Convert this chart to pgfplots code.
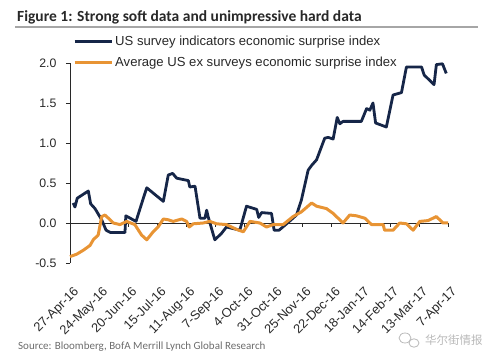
\documentclass[border=0pt]{standalone}
\usepackage{fontspec}
\setmainfont{Liberation Sans}
\newfontfamily\titlefont{Carlito}
\newfontfamily\cjk{Noto Sans CJK SC}
\usepackage{pgfplots}
\pgfplotsset{compat=1.18}
\definecolor{navy}{RGB}{22,38,72}
\definecolor{orng}{RGB}{232,148,52}
\definecolor{txt}{RGB}{40,40,40}
\begin{document}
\begin{tikzpicture}
\useasboundingbox (0,0) rectangle (500bp,361bp);
\node[anchor=base west, inner sep=0, font=\titlefont\bfseries\fontsize{15.5bp}{18bp}\selectfont, text=txt] at (17bp,339bp) {Figure 1: Strong soft data and unimpressive hard data};
\draw[gray!70, line width=1.2bp] (15bp,334bp) -- (478bp,334bp);
\node[anchor=base west, inner sep=0, font=\titlefont\fontsize{11bp}{13bp}\selectfont, text=gray!85!black] at (18bp,12bp) {Source: Bloomberg, BofA Merrill Lynch Global Research};
\node[anchor=west, inner sep=0, font=\cjk\fontsize{11.5bp}{13bp}\selectfont, text=gray!55] at (425bp,21bp) {华尔街情报};
\draw[gray!55, line width=0.8bp] (405bp,23bp) ellipse (6bp and 5bp);
\draw[gray!55, line width=0.8bp] (414bp,18bp) ellipse (5bp and 4.2bp);
\begin{axis}[
  at={(70bp,98bp)}, anchor=south west,
  scale only axis, width=378bp, height=200bp,
  xmin=0, xmax=13, ymin=-0.5, ymax=2,
  clip=false,
  axis y line=left, axis x line=middle,
  axis line style={-, draw=txt, line width=0.7bp},
  hide obscured x ticks=false,
  ytick={-0.5,0,0.5,1,1.5,2},
  xtick={0,...,13},
  xticklabels={27-Apr-16,24-May-16,20-Jun-16,15-Jul-16,11-Aug-16,7-Sep-16,4-Oct-16,31-Oct-16,25-Nov-16,22-Dec-16,18-Jan-17,14-Feb-17,13-Mar-17,7-Apr-17},
  ytick align=outside, xtick align=outside,
  major tick length=4bp,
  tick style={draw=txt, line width=0.7bp},
  /pgf/number format/assume math mode=true,
  yticklabel style={/pgf/number format/fixed, /pgf/number format/fixed zerofill, /pgf/number format/precision=1, xshift=-6bp, font=\fontsize{12.3bp}{14bp}\selectfont},
  ticklabel style={text=txt},
  xticklabel shift=57bp,
  xticklabel style={rotate=45, anchor=north east, xshift=4bp, font=\fontsize{12.8bp}{14bp}\selectfont},
  legend style={at={(rel axis cs:0.008,1.145)}, anchor=north west, draw=none, fill=none, inner sep=0pt, row sep=6bp, font=\fontsize{13.1bp}{15bp}\selectfont, text=txt},
  legend cell align=left,
  legend image code/.code={\draw[#1] (0bp,0bp) -- (37bp,0bp);},
]
\addplot[navy, line width=2.8bp, line join=round] coordinates {
(0.11,0.25)(0.17,0.20)(0.25,0.31)(0.63,0.40)(0.71,0.24)(0.86,0.18)(1.09,0.04)(1.24,-0.09)(1.40,-0.12)(1.89,-0.12)(1.92,0.09)(2.27,0.02)(2.54,0.33)(2.64,0.44)(3.21,0.27)(3.38,0.60)(3.53,0.62)(3.67,0.56)(4.07,0.53)(4.12,0.45)(4.30,0.46)(4.47,0.06)(4.64,0.06)(4.70,0.16)(4.75,0.08)(4.98,-0.21)(5.21,-0.13)(5.38,-0.05)(5.84,-0.09)(6.07,0.21)(6.42,0.17)(6.49,0.07)(6.59,0.13)(6.93,0.12)(7.02,-0.09)(7.19,-0.09)(7.45,-0.01)(7.79,0.10)(7.96,0.29)(8.19,0.66)(8.31,0.72)(8.48,0.79)(8.76,1.06)(8.88,1.07)(9.05,1.05)(9.19,1.32)(9.28,1.24)(9.39,1.27)(10.02,1.27)(10.20,1.43)(10.31,1.41)(10.42,1.50)(10.51,1.25)(10.88,1.20)(11.11,1.60)(11.40,1.63)(11.57,1.95)(12.09,1.95)(12.18,1.85)(12.52,1.73)(12.60,1.98)(12.81,1.99)(12.94,1.87)
};
\addlegendentry{US survey indicators economic surprise index}
\addplot[orng, line width=3bp, line join=round] coordinates {
(0,-0.42)(0.23,-0.39)(0.46,-0.34)(0.69,-0.28)(0.80,-0.21)(0.97,-0.15)(1.09,0.08)(1.20,0.10)(1.32,0.06)(1.49,0.0)(1.72,-0.02)(1.95,0.02)(2.23,-0.02)(2.46,-0.15)(2.64,-0.21)(2.86,-0.11)(3.03,-0.05)(3.21,0.05)(3.38,0.04)(3.55,0.02)(3.84,0.05)(4.01,0.02)(4.10,-0.05)(4.24,-0.01)(4.58,0.0)(4.81,0.02)(5.04,-0.01)(5.38,-0.02)(5.73,-0.08)(5.96,-0.11)(6.19,0.02)(6.53,0.0)(6.76,-0.05)(6.99,-0.02)(7.33,-0.02)(7.67,0.08)(7.96,0.14)(8.31,0.25)(8.48,0.21)(8.82,0.18)(9.05,0.12)(9.22,0.06)(9.39,0.0)(9.62,0.10)(9.85,0.09)(10.14,0.06)(10.37,-0.02)(10.77,-0.02)(10.82,-0.09)(11.11,-0.09)(11.34,0.0)(11.57,-0.01)(11.80,-0.09)(12.03,0.02)(12.31,0.03)(12.60,0.08)(12.83,0.0)(13.0,0.0)
};
\addlegendentry{Average US ex surveys economic surprise index}
\end{axis}
\end{tikzpicture}
\end{document}
